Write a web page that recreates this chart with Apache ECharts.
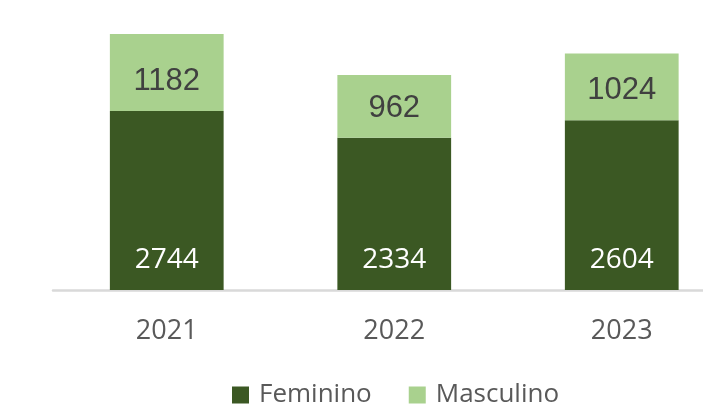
<!DOCTYPE html>
<html>
<head>
<meta charset="utf-8">
<script src="https://cdn.jsdelivr.net/npm/echarts@6/dist/echarts.min.js"></script>
<style>html,body{margin:0;padding:0;background:#fff;}#c{width:703px;height:405px;}</style>
</head>
<body>
<div id="c"></div>
<script>
const categories = ['2021', '2022', '2023'];
const feminino = [2744, 2334, 2604];
const masculino = [1182, 962, 1024];

const chart = echarts.init(document.getElementById('c'), null, {renderer: 'canvas'});
chart.setOption({
  animation: false,
  legend: {
    data: ['Feminino', 'Masculino'],
    left: 232,
    top: 382,
    padding: 0,
    itemWidth: 17,
    itemHeight: 17,
    itemGap: 37,
    icon: 'rect',
    textStyle: {fontFamily: 'Open Sans', fontSize: 26, color: '#595959', padding: [0, 0, 0, 5]}
  },
  grid: {left: 53, right: -32.5, top: 29.2, height: 260.8, containLabel: false, outerBoundsMode: 'none'},
  xAxis: {
    type: 'category',
    data: categories,
    axisLine: {lineStyle: {color: '#d9d9d9', width: 2.5}},
    axisTick: {show: false},
    axisLabel: {fontFamily: 'Open Sans', fontSize: 27, color: '#595959', margin: 28}
  },
  yAxis: {type: 'value', min: 0, max: 4000, show: false, splitLine: {show: false}},
  series: [
    {
      name: 'Feminino', type: 'bar', stack: 'total', data: feminino, barWidth: '50%',
      itemStyle: {color: '#3b5823'},
      label: {show: true, position: 'insideBottom', distance: 16, color: '#ffffff', fontFamily: 'Open Sans', fontSize: 28}
    },
    {
      name: 'Masculino', type: 'bar', stack: 'total', data: masculino, barWidth: '50%',
      itemStyle: {color: '#a9d18e'},
      label: {show: true, position: 'insideBottom', distance: 14, color: '#404040', fontFamily: 'Liberation Sans', fontSize: 31}
    }
  ]
});
</script>
</body>
</html>
